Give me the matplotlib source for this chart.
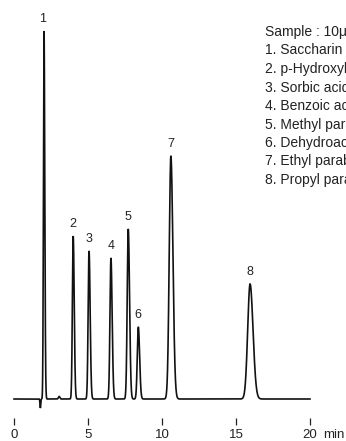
import numpy as np
import matplotlib
matplotlib.use("Agg")
import matplotlib.pyplot as plt

plt.rcParams['font.family'] = ['Liberation Sans', 'DejaVu Sans']

# Peak data (retention time in min, height in arbitrary units)
peak_ids = ["1", "2", "3", "4", "5", "6", "7", "8"]
peak_times = [2.03, 4.00, 5.07, 6.55, 7.72, 8.40, 10.60, 15.95]
peak_heights = [368, 163, 148, 141, 170, 72, 243, 115]
peak_sigmas = [0.040, 0.055, 0.060, 0.065, 0.070, 0.070, 0.110, 0.160]

# minor baseline features
dip_time, dip_depth, dip_sigma = 1.78, -9, 0.025
bump_time, bump_height, bump_sigma = 3.05, 2.5, 0.05

tick_values = [0, 5, 10, 15, 20]
tick_labels = ["0", "5", "10", "15", "20"]
x_unit = "min"

sample_title = "Sample : 10μL"
compounds = ["1. Saccharin sodium", "2. p-Hydroxybenzoic acid", "3. Sorbic acid",
             "4. Benzoic acid", "5. Methyl paraben", "6. Dehydroacetic acid",
             "7. Ethyl paraben", "8. Propyl paraben"]

t = np.linspace(0, 20, 8001)
signal = np.zeros_like(t)
for tr, h, s in zip(peak_times, peak_heights, peak_sigmas):
    sig = np.where(t < tr, s, s * 1.25)  # slight tailing
    signal += h * np.exp(-0.5 * ((t - tr) / sig) ** 2)
signal += dip_depth * np.exp(-0.5 * ((t - dip_time) / dip_sigma) ** 2)
signal += bump_height * np.exp(-0.5 * ((t - bump_time) / bump_sigma) ** 2)

fig = plt.figure(figsize=(3.46, 4.41), dpi=100)
ax = fig.add_axes([0, 0, 1, 1])
ax.set_xlim(-14 / 14.8, (346 - 14) / 14.8)
ax.set_ylim(-42, 399)
ax.axis('off')

ax.plot(t, signal, color='#111111', lw=1.2, solid_joinstyle='miter')

for tr, h, lab in zip(peak_times, peak_heights, peak_ids):
    dx = -0.1 if lab == "1" else 0.0
    ax.text(tr + dx, h + 6, lab, ha='center', va='bottom', fontsize=9, color='#222222')

# axis ticks
ax.vlines(tick_values, -19, -26, color='#222222', lw=0.9)
for v, lab in zip(tick_values, tick_labels):
    ax.text(v, -36, lab, ha='center', va='center', fontsize=9.5, color='#222222')
ax.text(21.6, -36, x_unit, ha='center', va='center', fontsize=9.5, color='#222222')

# sample description
fig.text(265 / 346, 1 - 32 / 441, sample_title, ha='left', va='center', fontsize=10, color='#222222')
for i, c in enumerate(compounds):
    fig.text(265 / 346, 1 - (50.5 + i * 18.5) / 441, c, ha='left', va='center',
             fontsize=10, color='#222222')

fig.savefig("out.png", dpi=100)
